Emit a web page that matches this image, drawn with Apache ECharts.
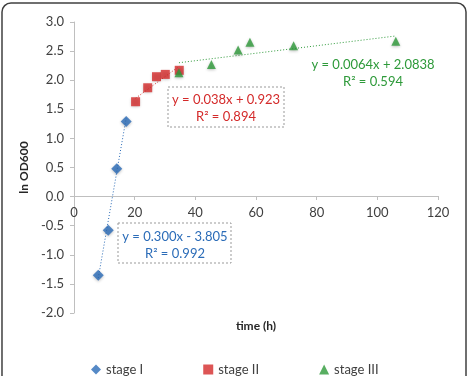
<!DOCTYPE html>
<html>
<head>
<meta charset="utf-8">
<script src="https://cdn.jsdelivr.net/npm/echarts@6/dist/echarts.min.js"></script>
<style>
  html, body { margin: 0; padding: 0; background: #fff; }
  #chart { width: 469px; height: 376px; }
</style>
</head>
<body>
<div id="chart"></div>
<script>
// stage data: [time (h), ln OD600]
var stage1 = [[8.0, -1.35], [11.3, -0.58], [14.1, 0.48], [17.2, 1.29]];
var stage2 = [[20.3, 1.63], [24.3, 1.87], [27.2, 2.06], [30.1, 2.10], [34.7, 2.17]];
var stage3 = [[34.6, 2.13], [45.3, 2.27], [54.1, 2.52], [58.0, 2.65], [72.4, 2.59], [106.1, 2.67]];

// trendline end points (as drawn)
var trend1 = [[8.0, -1.40], [17.2, 1.35]];
var trend2 = [[20.3, 1.69], [34.7, 2.24]];
var trend3 = [[34.6, 2.30], [106.1, 2.76]];

var seriesNames = ['stage I', 'stage II', 'stage III'];
var eq1 = ['y = 0.300x - 3.805', 'R² = 0.992'];
var eq2 = ['y = 0.038x + 0.923', 'R² = 0.894'];
var eq3 = ['y = 0.0064x + 2.0838', 'R² = 0.594'];

var BLUE = '#2b6cb8', RED = '#d42a2a', GREEN = '#2e9a3a';
var FONT = 'Lato';

function trendSeries(data, color){
    return {
        type: 'line',
        data: data,
        symbol: 'none',
        silent: true,
        z: 1,
        lineStyle: { color: color, width: 1, type: [1, 2] }
    };
}

function eqBox(lines, cx, y, color, box){
    var els = [];
    if(box){
        els.push({
            type: 'rect',
            shape: { x: box[0], y: box[1], width: box[2], height: box[3] },
            style: { fill: '#fff', stroke: '#999', lineWidth: 1, lineDash: [2, 2] },
            z: 10
        });
    }
    for(var i = 0; i < lines.length; i++){
        els.push({
            type: 'text',
            x: cx, y: y + i * 17,
            style: { text: lines[i], fill: color, font: '13px ' + FONT, align: 'center', verticalAlign: 'middle' },
            z: 11
        });
    }
    return els;
}

var chart = echarts.init(document.getElementById('chart'));
var option = {
    animation: false,
    backgroundColor: '#fff',
    grid: { left: 74, right: 31, top: 22, bottom: 63 },
    legend: {
        data: [
            { name: seriesNames[0], icon: 'diamond' },
            { name: seriesNames[1], icon: 'rect' },
            { name: seriesNames[2], icon: 'triangle' }
        ],
        left: 86, top: 358,
        itemWidth: 10, itemHeight: 10, itemGap: 60,
        textStyle: { color: '#404040', fontSize: 13, fontFamily: FONT }
    },
    xAxis: {
        type: 'value', min: 0, max: 120, interval: 20,
        position: 'bottom',
        offset: -117, // crosses the y axis at 0, as in the original
        axisLine: { onZero: false, lineStyle: { color: '#bfbfbf' } },
        axisTick: { show: true, length: 4, lineStyle: { color: '#bfbfbf' } },
        axisLabel: { color: '#404040', fontSize: 13, fontFamily: FONT, margin: 10 },
        splitLine: { show: false }
    },
    yAxis: {
        type: 'value', min: -2, max: 3, interval: 0.5,
        name: 'ln OD600', nameLocation: 'middle', nameGap: 40, nameRotate: 90,
        nameTextStyle: { color: '#262626', fontSize: 12, fontWeight: 'bold', fontFamily: FONT },
        axisLine: { show: true, onZero: false, lineStyle: { color: '#bfbfbf' } },
        axisTick: { show: true, length: 4, lineStyle: { color: '#bfbfbf' } },
        axisLabel: { color: '#404040', fontSize: 13, fontFamily: FONT, margin: 10,
            formatter: function(v){ return v.toFixed(1); } },
        splitLine: { show: false }
    },
    series: [
        trendSeries(trend1, BLUE),
        trendSeries(trend2, RED),
        trendSeries(trend3, GREEN),
        {
            name: seriesNames[0], type: 'scatter', data: stage1,
            symbol: 'diamond', symbolSize: 11, z: 3,
            itemStyle: { color: BLUE, shadowBlur: 3, shadowColor: 'rgba(0,0,0,0.3)', shadowOffsetY: 1 }
        },
        {
            name: seriesNames[1], type: 'scatter', data: stage2,
            symbol: 'rect', symbolSize: 9, z: 3,
            itemStyle: { color: RED, shadowBlur: 3, shadowColor: 'rgba(0,0,0,0.3)', shadowOffsetY: 1 }
        },
        {
            name: seriesNames[2], type: 'scatter', data: stage3,
            symbol: 'triangle', symbolSize: 9, z: 4,
            itemStyle: { color: GREEN, shadowBlur: 3, shadowColor: 'rgba(0,0,0,0.3)', shadowOffsetY: 1 }
        }
    ],
    graphic: [].concat(
        [{
            type: 'rect',
            shape: { x: 2, y: 3, width: 464, height: 385, r: 9 },
            style: { fill: 'none', stroke: '#404040', lineWidth: 1.5 },
            silent: true, z: 20
        }, {
            type: 'text', x: 256, y: 326,
            style: { text: 'time (h)', fill: '#262626', font: 'bold 12px ' + FONT, align: 'center', verticalAlign: 'middle' }
        }],
        eqBox(eq1, 175, 237, BLUE, [118, 223, 113, 40]),
        eqBox(eq2, 226, 100, RED, [168, 87, 116, 40]),
        eqBox(eq3, 373, 65, GREEN, null)
    )
};
chart.setOption(option);
</script>
</body>
</html>
